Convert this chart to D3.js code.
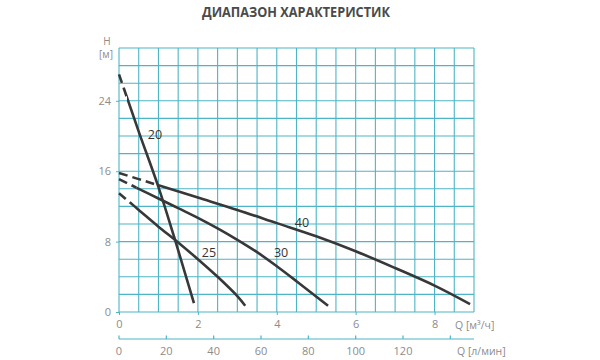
<!DOCTYPE html>
<html><head><meta charset="utf-8">
<script src="https://cdn.jsdelivr.net/npm/d3@7"></script>
<style>body{margin:0;background:#fff}</style></head><body>
<svg id="c" width="600" height="360"></svg>
<script>
const title = "ДИАПАЗОН ХАРАКТЕРИСТИК";
const yLabel1 = "H", yLabel2 = "[м]";
const xUnit1 = "Q [м³/ч]", xUnit2 = "Q [л/мин]";
const yTicks = [0, 8, 16, 24];
const xTicks = [0, 2, 4, 6, 8];
const lpmTicks = [0, 20, 40, 60, 80, 100, 120, 140];
const lpmLabels = [0, 20, 40, 60, 80, 100, 120];

const seriesNames = ["20", "25", "30", "40"];
const q20 = [0, 0.2, 0.5, 1.0, 1.4, 1.9];
const h20 = [27.0, 24.4, 20.5, 14.2, 8.5, 1.0];
const q25 = [0, 0.5, 1.0, 1.5, 2.0, 2.5, 3.0, 3.2];
const h25 = [13.5, 11.6, 9.7, 7.9, 6.0, 4.0, 1.8, 0.7];
const q30 = [0, 0.5, 1.0, 1.5, 2.0, 2.5, 3.0, 3.5, 4.0, 4.5, 5.3];
const h30 = [15.1, 14.0, 12.9, 11.8, 10.7, 9.5, 8.2, 6.8, 5.2, 3.5, 0.7];
const q40 = [0, 0.5, 1.0, 2.0, 3.0, 4.0, 5.0, 6.0, 7.0, 8.0, 8.9];
const h40 = [15.8, 15.1, 14.4, 13.0, 11.6, 10.1, 8.6, 6.9, 5.0, 3.0, 0.9];
const dashEnd = [0.2, 0.38, 0.45, 1.0];
const labelQ = [0.91, 2.28, 4.11, 4.64];
const labelH = [20.2, 6.8, 6.8, 10.2];

const svg = d3.select("#c");
const x = d3.scaleLinear().domain([0, 9]).range([119, 474]);
const y = d3.scaleLinear().domain([0, 30]).range([312, 48]);
const lpm = v => v * 60 / 1000; // l/min -> m3/h

const grid = "#4db5c5";
const tickTxt = "#8c8c8c";
const font = "'Open Sans', sans-serif";

svg.append("text").attr("x", 296).attr("y", 17).attr("text-anchor", "middle")
  .attr("font-family", font).attr("font-weight", 700).attr("font-size", 15)
  .attr("textLength", 188).attr("lengthAdjust", "spacingAndGlyphs")
  .attr("fill", "#4a4a4a").text(title);

// grid
const g = svg.append("g");
g.selectAll("line.v").data(d3.range(0, 9.01, 0.5)).join("line")
  .attr("x1", d => x(d)).attr("x2", d => x(d)).attr("y1", y(30)).attr("y2", y(0))
  .attr("stroke", grid).attr("stroke-width", 1.1);
g.selectAll("line.h").data(d3.range(0, 30.01, 2)).join("line")
  .attr("x1", x(0)).attr("x2", x(9)).attr("y1", d => y(d)).attr("y2", d => y(d))
  .attr("stroke", grid).attr("stroke-width", 1.1);

// y axis
const yAxis = svg.append("g").attr("transform", `translate(${x(0)},0)`)
  .call(d3.axisLeft(y).tickValues(yTicks).tickSize(3).tickPadding(5));
yAxis.select(".domain").remove();
yAxis.selectAll("line").attr("stroke", grid);
yAxis.selectAll("text").attr("fill", tickTxt).attr("font-family", font).attr("font-size", 11);

svg.append("text").attr("x", 107).attr("y", 45).attr("text-anchor", "middle")
  .attr("font-family", font).attr("font-size", 10).attr("fill", tickTxt).text(yLabel1);
svg.append("text").attr("x", 106).attr("y", 58).attr("text-anchor", "middle")
  .attr("font-family", font).attr("font-size", 10).attr("fill", tickTxt).text(yLabel2);

// x axis m3/h
const xAxis = svg.append("g").attr("transform", `translate(0,${y(0)})`)
  .call(d3.axisBottom(x).tickValues(xTicks).tickSize(3).tickPadding(5));
xAxis.select(".domain").remove();
xAxis.selectAll("line").attr("stroke", grid);
xAxis.selectAll("text").attr("fill", tickTxt).attr("font-family", font).attr("font-size", 11);
svg.append("text").attr("x", 455).attr("y", 329).attr("font-family", font)
  .attr("font-size", 10.5).attr("fill", tickTxt).text(xUnit1);

// x axis l/min
const x2 = svg.append("g").attr("transform", "translate(0,339)");
x2.append("line").attr("x1", x(0)).attr("x2", x(9)).attr("stroke", grid).attr("stroke-width", 1.2);
x2.selectAll("line.t").data(lpmTicks).join("line")
  .attr("x1", d => x(lpm(d))).attr("x2", d => x(lpm(d))).attr("y1", 0).attr("y2", -3.5)
  .attr("stroke", grid).attr("stroke-width", 1.2);
x2.selectAll("text.l").data(lpmLabels).join("text")
  .attr("x", d => x(lpm(d))).attr("y", 16).attr("text-anchor", "middle")
  .attr("font-family", font).attr("font-size", 11).attr("fill", tickTxt).text(d => d);
x2.append("text").attr("x", 457).attr("y", 16).attr("font-family", font)
  .attr("font-size", 10.5).attr("fill", tickTxt).text(xUnit2);

// curves
const defs = svg.append("defs");
const Q = [q20, q25, q30, q40], H = [h20, h25, h30, h40];
const line = d3.line().x(d => x(d[0])).y(d => y(d[1])).curve(d3.curveCatmullRom.alpha(0.5));
seriesNames.forEach((name, i) => {
  const pts = Q[i].map((q, j) => [q, H[i][j]]);
  const cut = x(dashEnd[i]);
  defs.append("clipPath").attr("id", "a" + i).append("rect")
    .attr("x", 0).attr("y", 0).attr("width", cut).attr("height", 360);
  defs.append("clipPath").attr("id", "b" + i).append("rect")
    .attr("x", cut).attr("y", 0).attr("width", 600 - cut).attr("height", 360);
  svg.append("path").attr("d", line(pts)).attr("fill", "none").attr("stroke", "#383838")
    .attr("stroke-width", 2.6).attr("stroke-dasharray", "9,5").attr("clip-path", `url(#a${i})`);
  svg.append("path").attr("d", line(pts)).attr("fill", "none").attr("stroke", "#383838")
    .attr("stroke-width", 2.6).attr("stroke-linecap", "butt").attr("clip-path", `url(#b${i})`);
  svg.append("text").attr("x", x(labelQ[i])).attr("y", y(labelH[i])).attr("dy", "0.35em")
    .attr("text-anchor", "middle").attr("font-family", font).attr("font-size", 12.5)
    .attr("fill", "#333").text(name);
});
</script>
</body></html>
